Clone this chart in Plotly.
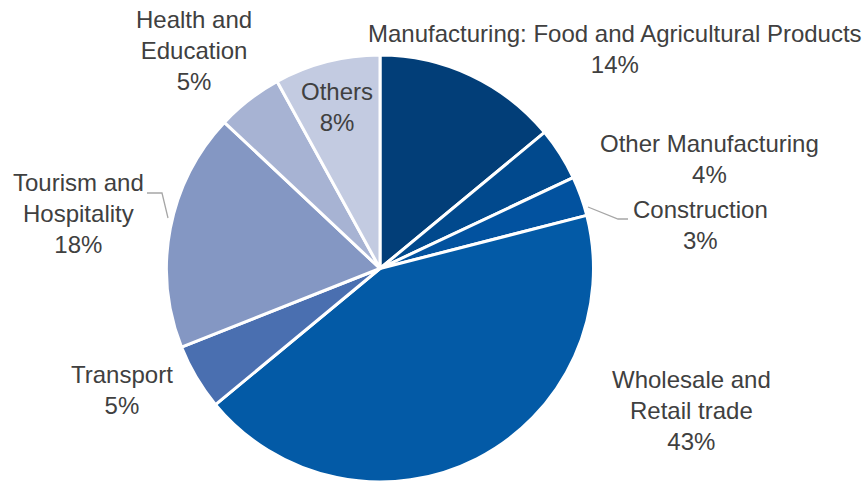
import plotly.graph_objects as go

W, H = 866, 482

categories = ["Manufacturing: Food and Agricultural Products", "Other Manufacturing",
              "Construction", "Wholesale and Retail trade", "Transport",
              "Tourism and Hospitality", "Health and Education", "Others"]
values = [14, 4, 3, 43, 5, 18, 5, 8]
label_text = ["Manufacturing: Food and Agricultural Products", "Other Manufacturing",
              "Construction", "Wholesale and<br>Retail trade", "Transport",
              "Tourism and<br>Hospitality", "Health and<br>Education", "Others"]
colors = ["#023E78", "#01498D", "#02529F", "#035AA6", "#4A6FB0",
          "#8497C3", "#A7B3D3", "#C3CBE1"]

# label block centres (pixels) - layout only
label_pos = [(615, 49), (709, 159), (700, 225), (691, 410), (122, 390),
             (78, 213), (194, 51), (337, 107)]

cx, cy, r = 380, 268.5, 213.5

fig = go.Figure(go.Pie(
    labels=categories, values=values, sort=False, direction="clockwise",
    rotation=0, textinfo="none", hoverinfo="label+percent",
    marker=dict(colors=colors, line=dict(color="white", width=3)),
    domain=dict(x=[(cx - r) / W, (cx + r) / W], y=[0, 1 - (cy - r) / H]),
    showlegend=False,
))

total = sum(values)
for txt, v, (px, py) in zip(label_text, values, label_pos):
    fig.add_annotation(
        x=px / W, y=1 - py / H, xref="paper", yref="paper",
        text=f"{txt}<br>{round(100 * v / total)}%", showarrow=False,
        xanchor="center", yanchor="middle", align="center",
        font=dict(family="Liberation Sans, Arial, sans-serif", size=24, color="#404040"),
    )

def pth(pts):
    s = "M " + " L ".join(f"{x / W},{1 - y / H}" for x, y in pts)
    return s

for pts in [[(588, 207), (618, 219), (628, 219)],
            [(147, 193), (162, 193), (168, 218)]]:
    fig.add_shape(type="path", path=pth(pts), xref="paper", yref="paper",
                  line=dict(color="#A6A6A6", width=1.3))

fig.update_layout(width=W, height=H, margin=dict(l=0, r=0, t=0, b=0),
                  paper_bgcolor="white", plot_bgcolor="white")
fig.write_html("out.html")
